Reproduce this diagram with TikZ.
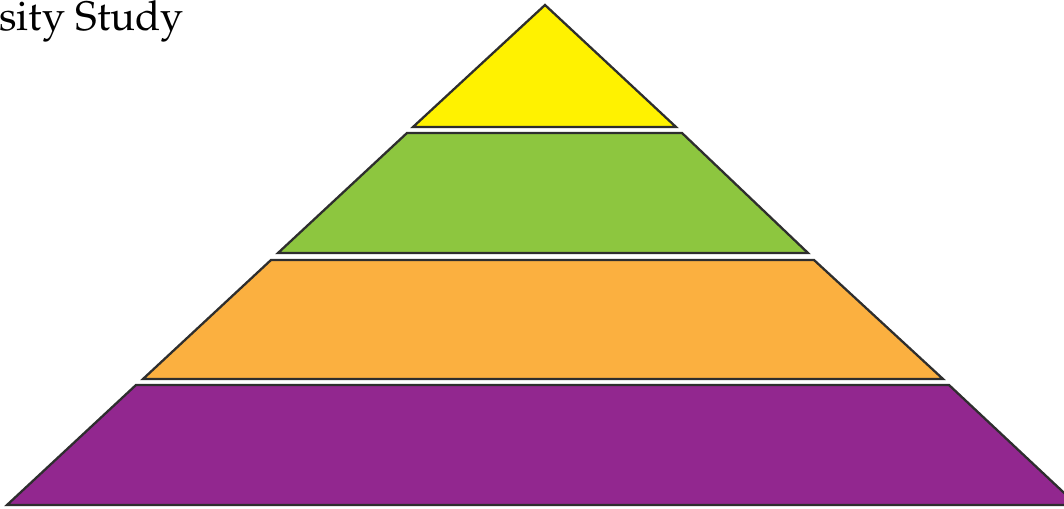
\documentclass[tikz,border=0pt]{standalone}
\usepackage[T1]{fontenc}
\renewcommand{\rmdefault}{ppl}
\definecolor{tieryellow}{HTML}{FFF200}
\definecolor{tiergreen}{HTML}{8DC63F}
\definecolor{tierorange}{HTML}{FBB040}
\definecolor{tierpurple}{HTML}{92278F}
\definecolor{edge}{HTML}{2E2E2E}
\tikzset{
  tier/.style={draw=edge, line width=1.3pt, line join=miter},
  title/.style={font=\rmfamily\fontsize{23.5}{28}\selectfont, text=black, inner sep=0pt},
}
\begin{document}
\begin{tikzpicture}[x=0.02cm, y=-0.02cm]
  \useasboundingbox (0,0) rectangle (1064,509);
  \clip (0,0) rectangle (1064,509);
  \fill[white] (0,0) rectangle (1064,509);

  % heading, cut off at the left edge
  \node[title, anchor=base west] (head) at (-1,31) {sity Study};

  % top of the pyramid
  \draw[tier, fill=tieryellow] (545,5) -- (676,127) -- (413,127) -- cycle;

  % lower tiers: top y / bottom y / corners
  \foreach \col/\ty/\by/\tl/\tr/\bl/\br in {
      tiergreen/133/253/407/682/278/808,
      tierorange/260/379/271/814/143/943,
      tierpurple/385/505/136/949/7/1077}{
    \draw[tier, fill=\col] (\tl,\ty) -- (\tr,\ty) -- (\br,\by) -- (\bl,\by) -- cycle;
  }
\end{tikzpicture}
\end{document}
